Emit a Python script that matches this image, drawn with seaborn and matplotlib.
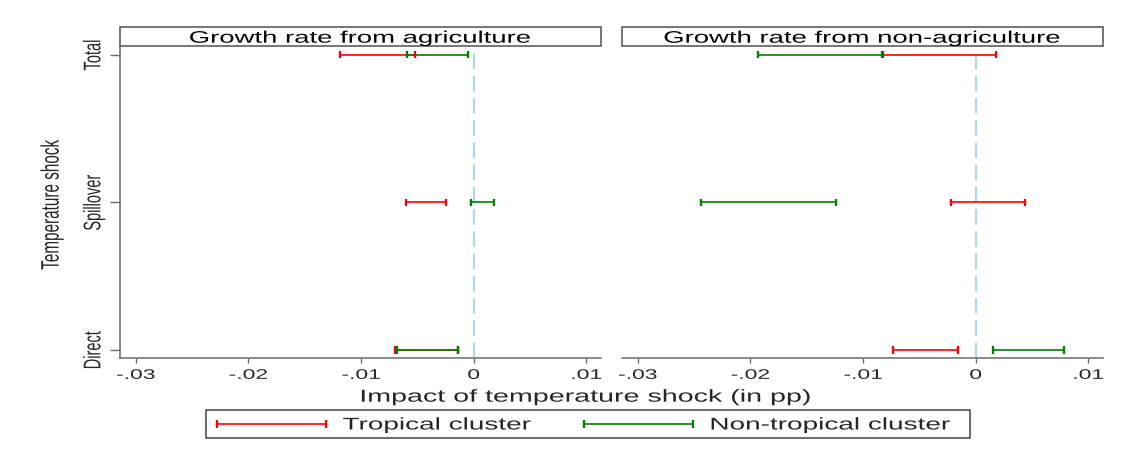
import numpy as np
import pandas as pd
import matplotlib
matplotlib.use("Agg")
import matplotlib.pyplot as plt
import matplotlib.patheffects as pe
from matplotlib.transforms import Affine2D
from matplotlib.patches import Rectangle
from matplotlib.lines import Line2D
import seaborn as sns

# ---- data -------------------------------------------------------------
shocks = ["Direct", "Spillover", "Total"]
panels = ["Growth rate from agriculture", "Growth rate from non-agriculture"]
clusters = ["Tropical cluster", "Non-tropical cluster"]

# confidence bounds, ordered Direct, Spillover, Total
agri_tropical_lo = [-0.0070, -0.0060, -0.0119]
agri_tropical_hi = [-0.0014, -0.0025, -0.0052]
agri_nontropical_lo = [-0.0068, -0.0002, -0.0059]
agri_nontropical_hi = [-0.0014, 0.0018, -0.0005]
nonagri_tropical_lo = [-0.0073, -0.0022, -0.0082]
nonagri_tropical_hi = [-0.0016, 0.0044, 0.0018]
nonagri_nontropical_lo = [0.0015, -0.0244, -0.0193]
nonagri_nontropical_hi = [0.0078, -0.0124, -0.0083]

xticks = [-0.03, -0.02, -0.01, 0.0, 0.01]
xtick_labels = ["-.03", "-.02", "-.01", "0", ".01"]

colors = {"Tropical cluster": "#ff0000", "Non-tropical cluster": "#008000"}

bounds = {
    (panels[0], clusters[0]): (agri_tropical_lo, agri_tropical_hi),
    (panels[0], clusters[1]): (agri_nontropical_lo, agri_nontropical_hi),
    (panels[1], clusters[0]): (nonagri_tropical_lo, nonagri_tropical_hi),
    (panels[1], clusters[1]): (nonagri_nontropical_lo, nonagri_nontropical_hi),
}
rows = []
for (panel, cluster), (lo, hi) in bounds.items():
    for i, shock in enumerate(shocks):
        for v in (lo[i], hi[i]):
            rows.append(dict(panel=panel, cluster=cluster, shock=shock,
                             pos=i, value=v))
df = pd.DataFrame(rows)


# ---- text helper: widen glyphs along one direction --------------------
class Stretch(pe.AbstractPathEffect):
    def __init__(self, sx=1.0, sy=1.0, fx=0.5, fy=0.5):
        super().__init__()
        self.sx, self.sy, self.fx, self.fy = sx, sy, fx, fy

    def draw_path(self, renderer, gc, tpath, affine, rgbFace=None):
        ext = tpath.get_extents()
        cx = ext.x0 + self.fx * ext.width
        cy = 0.0 if self.fy is None else ext.y0 + self.fy * ext.height
        pre = (Affine2D().translate(-cx, -cy)
               .scale(self.sx, self.sy).translate(cx, cy))
        renderer.draw_path(gc, tpath, pre + affine, rgbFace)


SX = 1.65
wide_c = [Stretch(sx=SX, fx=0.5)]
wide_l = [Stretch(sx=SX, fx=0.0)]
tall_r = [Stretch(sy=SX, fy=None)]
tall_c = [Stretch(sy=SX, fy=0.5)]

# ---- figure -----------------------------------------------------------
sns.set_style("white")
plt.rcParams["font.family"] = ["Liberation Sans", "DejaVu Sans"]

W, H = 1137, 455
fig = plt.figure(figsize=(W / 100, H / 100), dpi=100, facecolor="white")

ax_bottom, ax_w, ax_h = 358, 481, 312
axes = []
for x0 in [120, 622]:
    ax = fig.add_axes([x0 / W, 1 - ax_bottom / H, ax_w / W, ax_h / H])
    axes.append(ax)

spine_col = "#6a6a6a"
for k, (ax, panel) in enumerate(zip(axes, panels)):
    sub = df[df["panel"] == panel]
    ax.axvline(0, color="#add8e6", lw=1.6, dashes=(7, 3), zorder=1)
    sns.lineplot(data=sub, x="value", y="pos", hue="cluster",
                 hue_order=clusters, units="shock", estimator=None,
                 palette=colors, linewidth=1.2, legend=False, ax=ax,
                 zorder=3)
    caps = sub.sort_values("cluster", key=lambda s: s.map(
        {c: i for i, c in enumerate(clusters)}))
    sns.scatterplot(data=caps, x="value", y="pos", hue="cluster",
                    hue_order=clusters, palette=colors, marker="|",
                    s=26, linewidth=1.7, legend=False, ax=ax, zorder=4)

    ax.set_xlim(-0.0314, 0.0113)
    ax.set_ylim(-0.054, 2.06)
    ax.set_xlabel("")
    ax.set_ylabel("")
    ax.set_xticks(xticks)
    ax.set_xticklabels(xtick_labels, fontsize=10)
    ax.tick_params(axis="x", direction="out", length=3.6, width=1.0,
                   color=spine_col, pad=3.5, bottom=True)
    for lbl in ax.get_xticklabels():
        lbl.set_path_effects(wide_c)
    for side in ("top", "right"):
        ax.spines[side].set_visible(False)
    ax.spines["bottom"].set_color(spine_col)
    ax.spines["bottom"].set_linewidth(1.1)
    if k == 0:
        ax.spines["left"].set_color(spine_col)
        ax.spines["left"].set_linewidth(1.1)
        ax.set_yticks(range(len(shocks)))
        ax.set_yticklabels(shocks, fontsize=10.5, rotation=90, va="center")
        ax.tick_params(axis="y", direction="out", length=7, width=1.0,
                       color=spine_col, pad=5, left=True)
        for lbl in ax.get_yticklabels():
            lbl.set_path_effects(tall_r)
    else:
        ax.spines["left"].set_visible(False)
        ax.set_yticks([])

    # boxed panel heading
    box_h = 19 / ax_h
    ax.add_patch(Rectangle((0, 1), 1, box_h, transform=ax.transAxes,
                           facecolor="white", edgecolor="#505050", lw=1.1,
                           clip_on=False, zorder=5))
    t = ax.text(0.5, 1 + 3.3 / ax_h, panel, transform=ax.transAxes,
                ha="center", va="baseline", fontsize=12, color="black",
                zorder=6)
    t.set_path_effects(wide_c)

yl = fig.text(52 / W, 1 - 205 / H, "Temperature shock", rotation=90,
              ha="center", va="center", fontsize=11)
yl.set_path_effects(tall_c)
xl = fig.text(586 / W, 1 - 401.7 / H, "Impact of temperature shock (in pp)",
              ha="center", va="baseline", fontsize=12.5)
xl.set_path_effects(wide_c)

# legend with frame drawn separately
fig.patches.append(Rectangle((206 / W, 1 - 438 / H), (970 - 206) / W,
                             28 / H, transform=fig.transFigure,
                             facecolor="white", edgecolor="#404040",
                             lw=1.1, zorder=0))
handles = [Line2D([], [], color=colors[c], lw=1.2, marker="|",
                  markersize=6, markeredgewidth=1.7) for c in clusters]
fs_px = 12.2 * 100 / 72
leg = fig.legend(handles, clusters, ncol=2, loc="center left",
                 bbox_to_anchor=(211.7 / W, 1 - 425 / H), frameon=False,
                 borderpad=0, borderaxespad=0, numpoints=2, fontsize=12.2,
                 handlelength=109 / fs_px + 0.6, handletextpad=0.7,
                 columnspacing=7.2)
for t in leg.get_texts():
    t.set_path_effects(wide_l)

fig.savefig("out.png", dpi=100, facecolor="white")
